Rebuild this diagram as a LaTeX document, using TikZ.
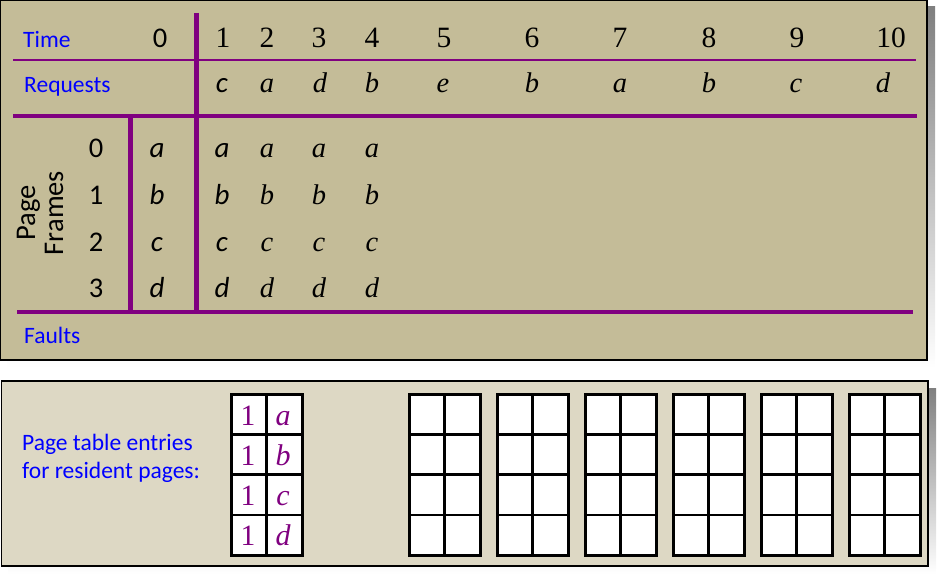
\documentclass[tikz,border=0pt]{standalone}
\usepackage{fontspec}
\setmainfont{Liberation Serif}
\newfontfamily\calfont{Carlito}
\definecolor{panelA}{RGB}{196,188,152}
\definecolor{panelB}{RGB}{221,216,196}
\definecolor{shade}{RGB}{237,235,224}
\definecolor{pur}{RGB}{128,0,128}
\definecolor{lblue}{RGB}{0,0,255}
\begin{document}
\begin{tikzpicture}[x=1pt,y=-1pt,
  lbl/.style={font=\calfont\fontsize{23.5}{28}\selectfont, text=lblue, anchor=base west, inner sep=0pt},
  cnum/.style={font=\calfont\fontsize{28.5}{28}\selectfont, anchor=base, inner sep=0pt},
  snum/.style={font=\fontsize{29.5}{28}\selectfont, anchor=base, inner sep=0pt},
  cit/.style={font=\calfont\itshape\fontsize{29}{28}\selectfont, anchor=base, inner sep=0pt},
  sit/.style={font=\itshape\fontsize{28.5}{28}\selectfont, anchor=base, inner sep=0pt},
  pline/.style={draw=pur, line width=5pt},
  gridline/.style={draw=black, line width=2.5pt},
  gridframe/.style={draw=black, line width=3pt}
]
\useasboundingbox (0,0) rectangle (938,575);
% panels with shadows
\fill[shade] (7,7) rectangle (935,368);
\fill[shade] (8,388) rectangle (936,574);
\filldraw[fill=panelA, draw=black, line width=1.3pt] (0.7,0.7) rectangle (927,360);
\filldraw[fill=panelB, draw=black, line width=1.3pt] (1.5,381) rectangle (928,566);

% table rules
\draw[draw=pur, line width=1.2pt] (13,60) -- (916,60);
\draw[pline, line width=4.8pt] (13,116) -- (917,116);
\draw[pline, line width=4.8pt] (17,312) -- (913,312);
\draw[pline] (196,13) -- (196,314.4);
\draw[pline] (130,116) -- (130,314.4);

% time row
\node[lbl] (time) at (23,47.5) {Time};
\node[cnum] (tm0) at (160,47.5) {0};
\foreach \i/\x in {1/223,2/267,3/319,4/372,5/444,6/532,7/620,8/709,9/797,10/891}
  \node[snum] (tm\i) at (\x,47.5) {\i};

% requests row
\node[lbl] (req) at (24,93) {Requests};
\node[cit] (rq1) at (222,93) {c};
\foreach \i/\x/\lt in {2/267/a,3/320/d,4/372/b,5/443/e,6/532/b,7/620/a,8/709/b,9/796/c,10/883/d}
  \node[sit] (rq\i) at (\x,93) {\lt};

% page frames
\foreach \r/\y/\lt in {0/158/a,1/205/b,2/251.5/c,3/298/d} {
  \node[cnum] (rl\r) at (96,\y) {\r};
  \node[cit] (f\r-0) at (157,\y) {\lt};
  \node[cit] (f\r-1) at (222,\y) {\lt};
  \node[sit] (f\r-2) at (267,\y) {\lt};
  \node[sit] (f\r-3) at (319,\y) {\lt};
  \node[sit] (f\r-4) at (372,\y) {\lt};
}
\node[cnum, anchor=center, rotate=90, align=center] (pf) at (40,213) {Page\\Frames};
\node[lbl] (faults) at (24,343) {Faults};

% bottom panel
\node[lbl] (ptl1) at (22,450) {Page table entries};
\node[lbl] (ptl2) at (22,478) {for resident pages:};

\foreach \xl in {231,409,497,585,673,761,849} {
  \fill[white] (\xl,394) rectangle ++(71,161);
  \foreach \j in {1,2,3}
    \draw[gridline] (\xl,394+40.25*\j) -- ++(71,0);
  \draw[gridline] (\xl+35.5,394) -- ++(0,161);
  \draw[gridframe] (\xl,394) rectangle ++(71,161);
  \draw[draw=black, line width=1.5pt] (\xl+72.5,396) -- (\xl+72.5,556.5) -- (\xl+2,556.5);
}
\foreach \r/\lt in {0/a,1/b,2/c,3/d} {
  \node[snum, text=pur] (pt\r-v) at (248,425+40.25*\r) {1};
  \node[sit, text=pur, font=\itshape\fontsize{30}{28}\selectfont] (pt\r-p) at (283,425+40.25*\r) {\lt};
}
\end{tikzpicture}
\end{document}
